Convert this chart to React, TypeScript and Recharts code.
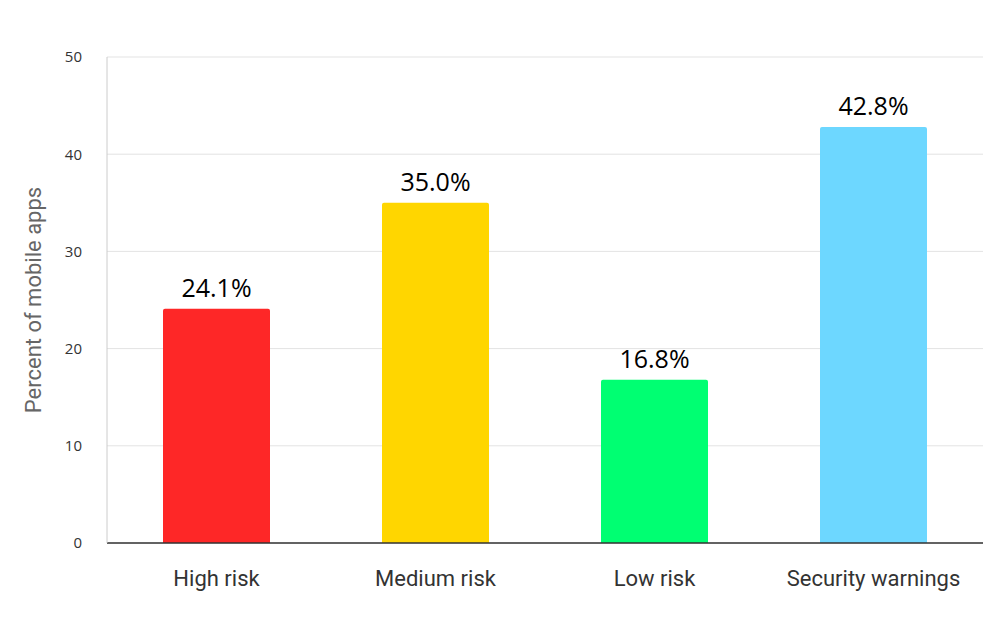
import { BarChart, Bar, XAxis, YAxis, CartesianGrid, Cell, LabelList } from 'recharts';

const categories = ['High risk', 'Medium risk', 'Low risk', 'Security warnings'];
const percents = [24.1, 35.0, 16.8, 42.8];
const barColors = ['#fe2727', '#ffd600', '#00ff72', '#6dd7ff'];
const yTicks = [0, 10, 20, 30, 40, 50];

const data = categories.map((name, i) => ({ name, value: percents[i] }));

export default function App() {
  return (
    <div style={{ position: 'absolute', left: 0, top: 0 }}>
      <BarChart
        width={1000}
        height={617}
        data={data}
        margin={{ top: 57, right: 17, left: 0, bottom: 0 }}
      >
        {/* only horizontal gridlines */}
        <CartesianGrid vertical={false} stroke="#e3e3e3" />
        <XAxis
          dataKey="name"
          height={74}
          axisLine={{ stroke: '#333', strokeWidth: 1.5 }}
          tickLine={false}
          tickSize={0}
          tickMargin={27}
          tick={{ fontSize: 22, fill: '#333', fontFamily: 'Roboto' }}
        />
        <YAxis
          width={107}
          domain={[0, 50]}
          ticks={yTicks}
          axisLine={{ stroke: '#cccccc' }}
          tickLine={false}
          tickSize={0}
          tickMargin={25}
          tick={{ fontSize: 15, fill: '#333', fontFamily: 'Open Sans' }}
          label={{
            value: 'Percent of mobile apps',
            angle: -90,
            position: 'insideLeft',
            offset: 33,
            style: { fontSize: 22, fill: '#666', fontFamily: 'Roboto', textAnchor: 'middle' },
          }}
        />
        <Bar dataKey="value" barSize={107} radius={[2, 2, 0, 0]} isAnimationActive={false}>
          {data.map((d, i) => (
            <Cell key={d.name} fill={barColors[i]} />
          ))}
          <LabelList
            dataKey="value"
            position="top"
            offset={12}
            formatter={(v: any) => `${Number(v).toFixed(1)}%`}
            style={{ fontSize: 25, fill: '#000', fontFamily: 'Open Sans' }}
          />
        </Bar>
      </BarChart>
    </div>
  );
}
